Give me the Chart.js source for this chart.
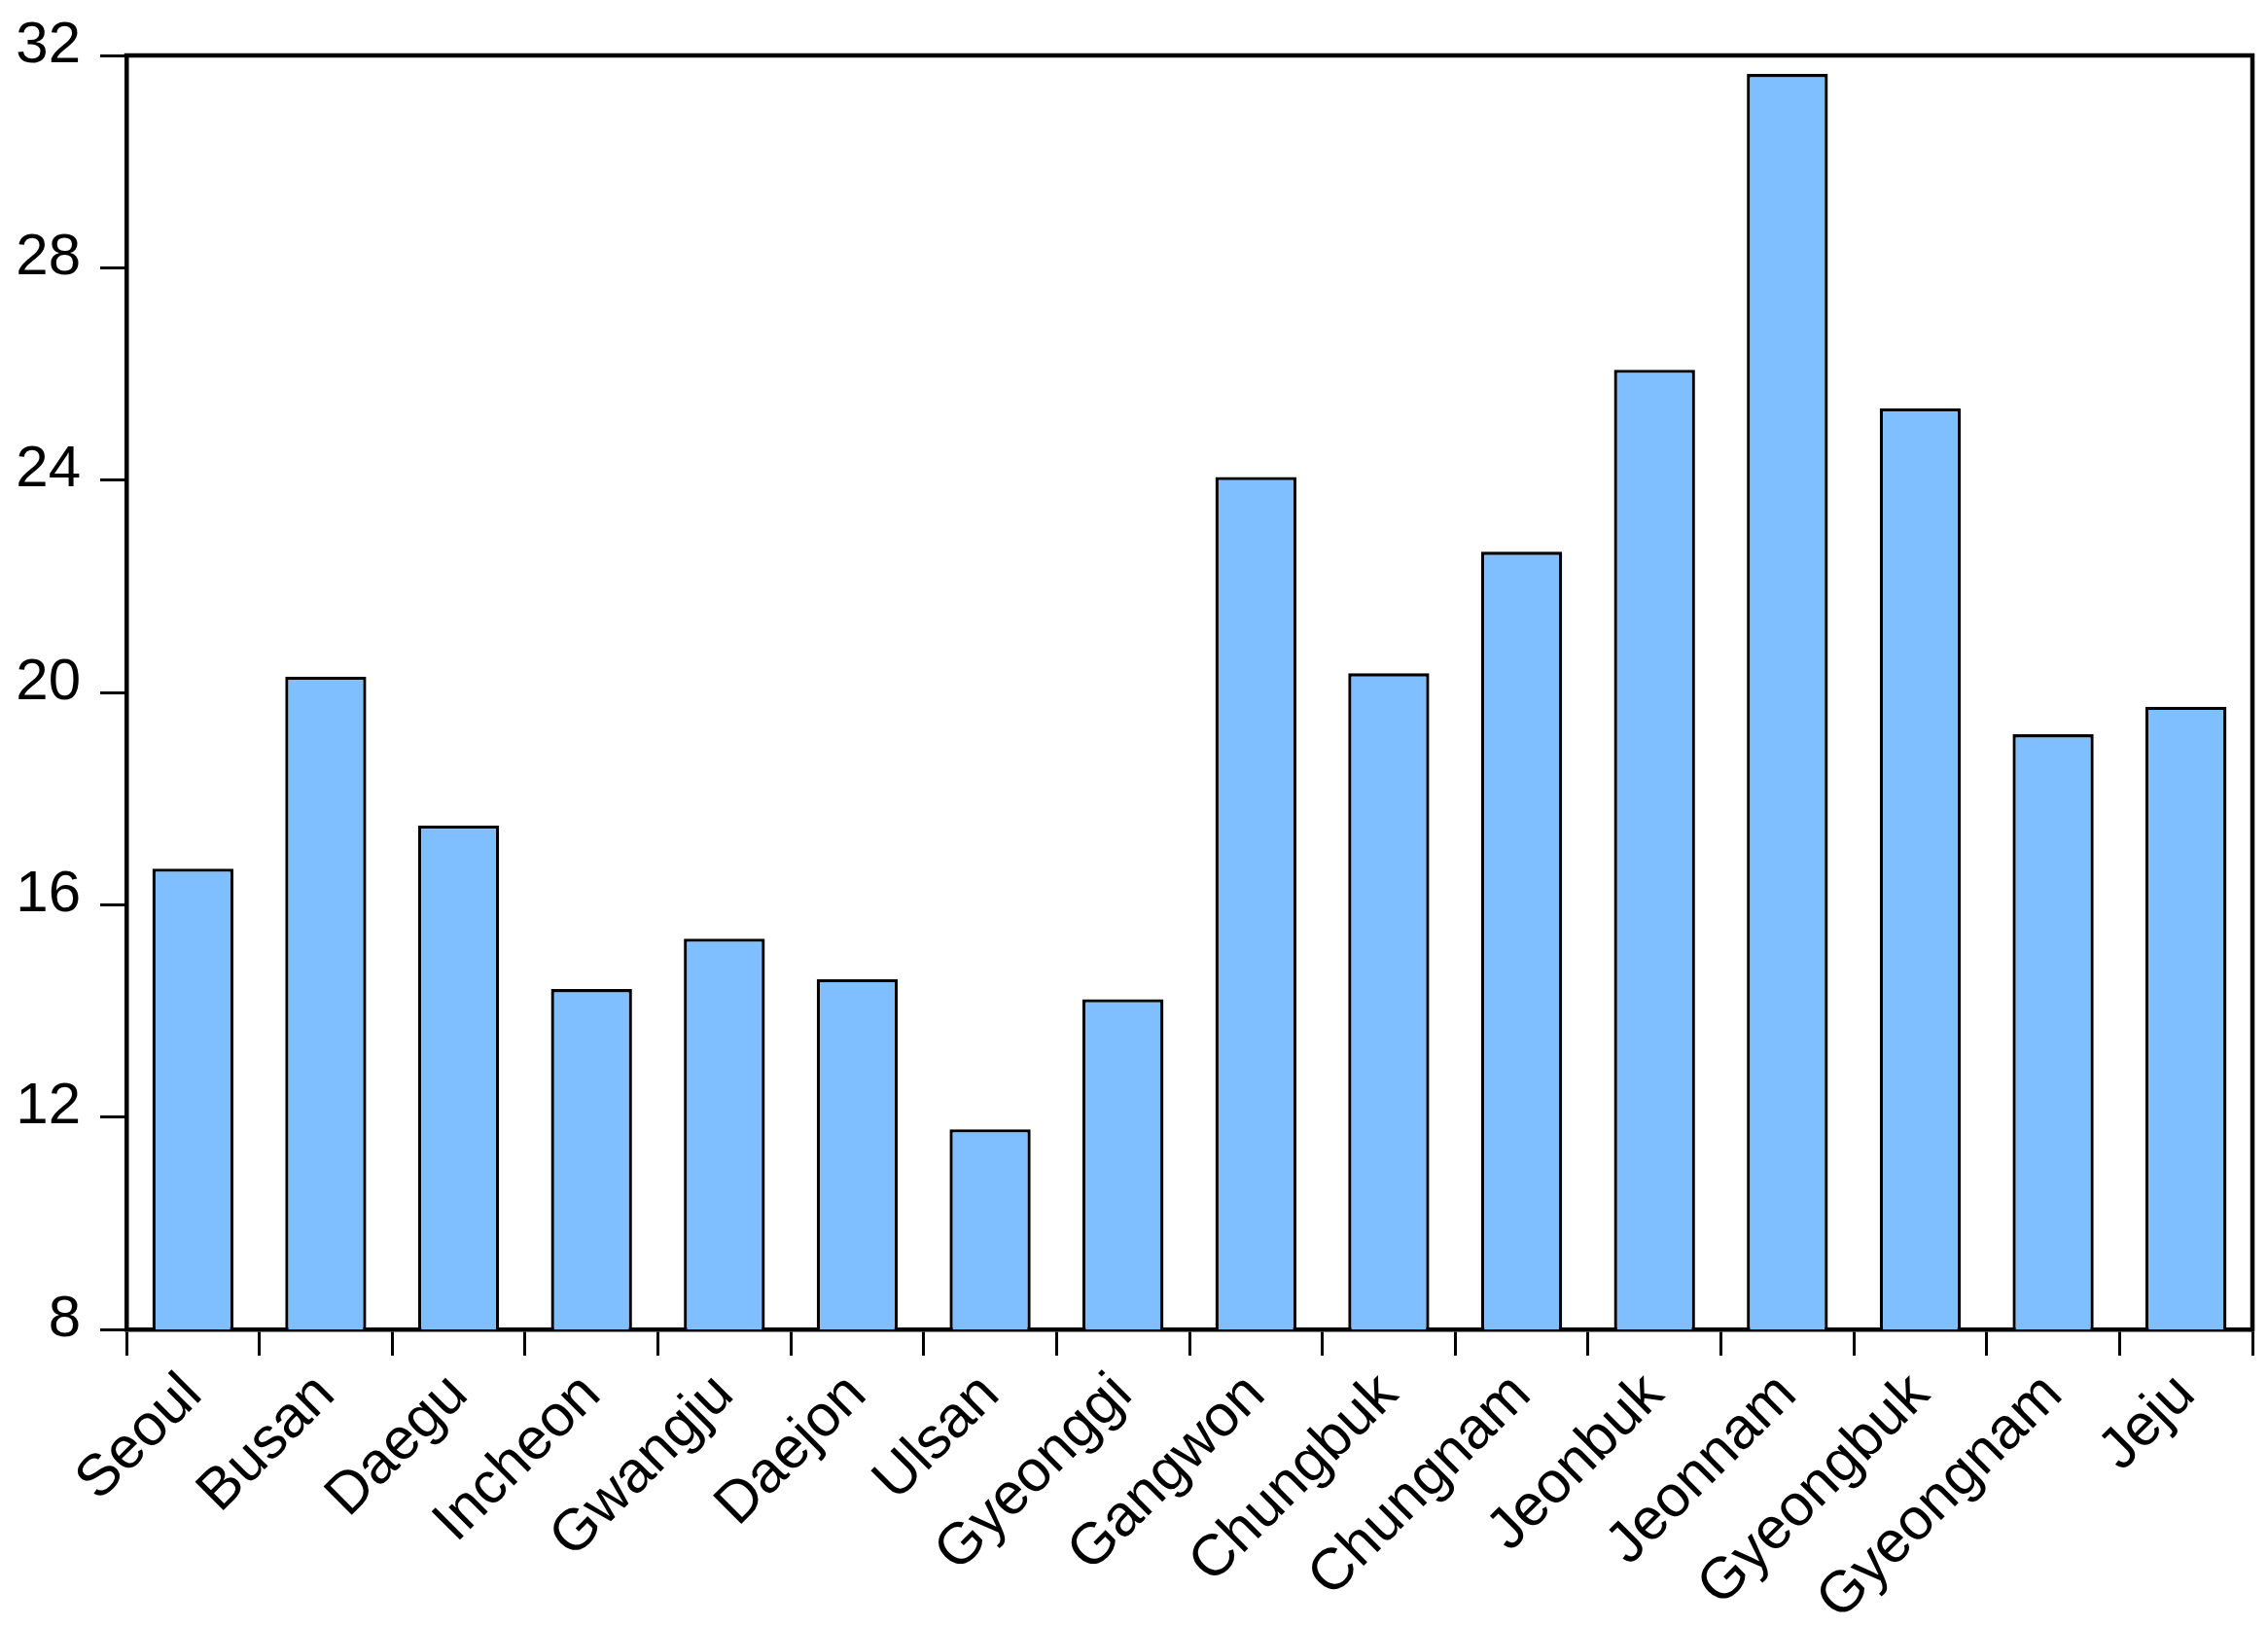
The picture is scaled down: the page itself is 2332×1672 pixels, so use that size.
<!DOCTYPE html>
<html>
<head>
<meta charset="utf-8">
<script src="https://cdn.jsdelivr.net/npm/chart.js@4.4.1/dist/chart.umd.min.js"></script>
<style>
  html, body { margin: 0; padding: 0; background: #fff; }
  #chart { display: block; }
</style>
</head>
<body>
<canvas id="chart" width="2332" height="1672"></canvas>
<script>
// data
const regions = ['Seoul', 'Busan', 'Daegu', 'Incheon', 'Gwangju', 'Daejon', 'Ulsan', 'Gyeonggi',
  'Gangwon', 'Chungbuk', 'Chungnam', 'Jeonbuk', 'Jeonnam', 'Gyeongbuk', 'Gyeongnam', 'Jeju'];
const values = [16.68, 20.30, 17.49, 14.41, 15.36, 14.60, 11.77, 14.22,
  24.06, 20.36, 22.65, 26.08, 31.65, 25.35, 19.21, 19.73];
const yTicks = [8, 12, 16, 20, 24, 28, 32];

const FONT = { family: '"Liberation Sans", Arial, sans-serif', size: 60 };
const AXIS_W = 4.5;

// box around the plot (top + right side)
const framePlugin = {
  id: 'frame',
  afterDraw(chart) {
    const { ctx, chartArea: a } = chart;
    ctx.save();
    ctx.strokeStyle = '#000';
    ctx.lineWidth = AXIS_W;
    ctx.lineCap = 'square';
    ctx.beginPath();
    ctx.moveTo(a.left, a.top);
    ctx.lineTo(a.right, a.top);
    ctx.lineTo(a.right, a.bottom);
    ctx.stroke();
    ctx.restore();
  }
};

const chart = new Chart(document.getElementById('chart'), {
  type: 'bar',
  data: {
    labels: regions,
    datasets: [{
      data: values,
      backgroundColor: '#80BFFF',
      borderColor: '#000',
      borderWidth: 3.3,
      categoryPercentage: 1,
      barPercentage: 0.61
    }]
  },
  options: {
    responsive: false,
    devicePixelRatio: 1,
    animation: false,
    layout: { padding: { top: 57, right: 16, left: 0, bottom: 0 } },
    plugins: {
      legend: { display: false },
      tooltip: { enabled: false }
    },
    scales: {
      x: {
        afterFit(scale) { scale.height = 305; },
        grid: {
          offset: true,
          drawOnChartArea: false,
          drawTicks: true,
          tickLength: 27,
          color: '#000',
          lineWidth: 3
        },
        border: { color: '#000', width: AXIS_W },
        ticks: {
          autoSkip: false,
          minRotation: 45,
          maxRotation: 45,
          padding: 5,
          color: '#000',
          font: FONT
        }
      },
      y: {
        min: 8,
        max: 32,
        afterFit(scale) { scale.width = 130; },
        afterBuildTicks(scale) { scale.ticks = yTicks.map(v => ({ value: v })); },
        grid: {
          drawOnChartArea: false,
          drawTicks: true,
          tickLength: 27,
          color: '#000',
          lineWidth: 3
        },
        border: { color: '#000', width: AXIS_W },
        ticks: {
          padding: 20,
          labelOffset: -10,
          color: '#000',
          font: FONT
        }
      }
    }
  },
  plugins: [framePlugin]
});
</script>
</body>
</html>
